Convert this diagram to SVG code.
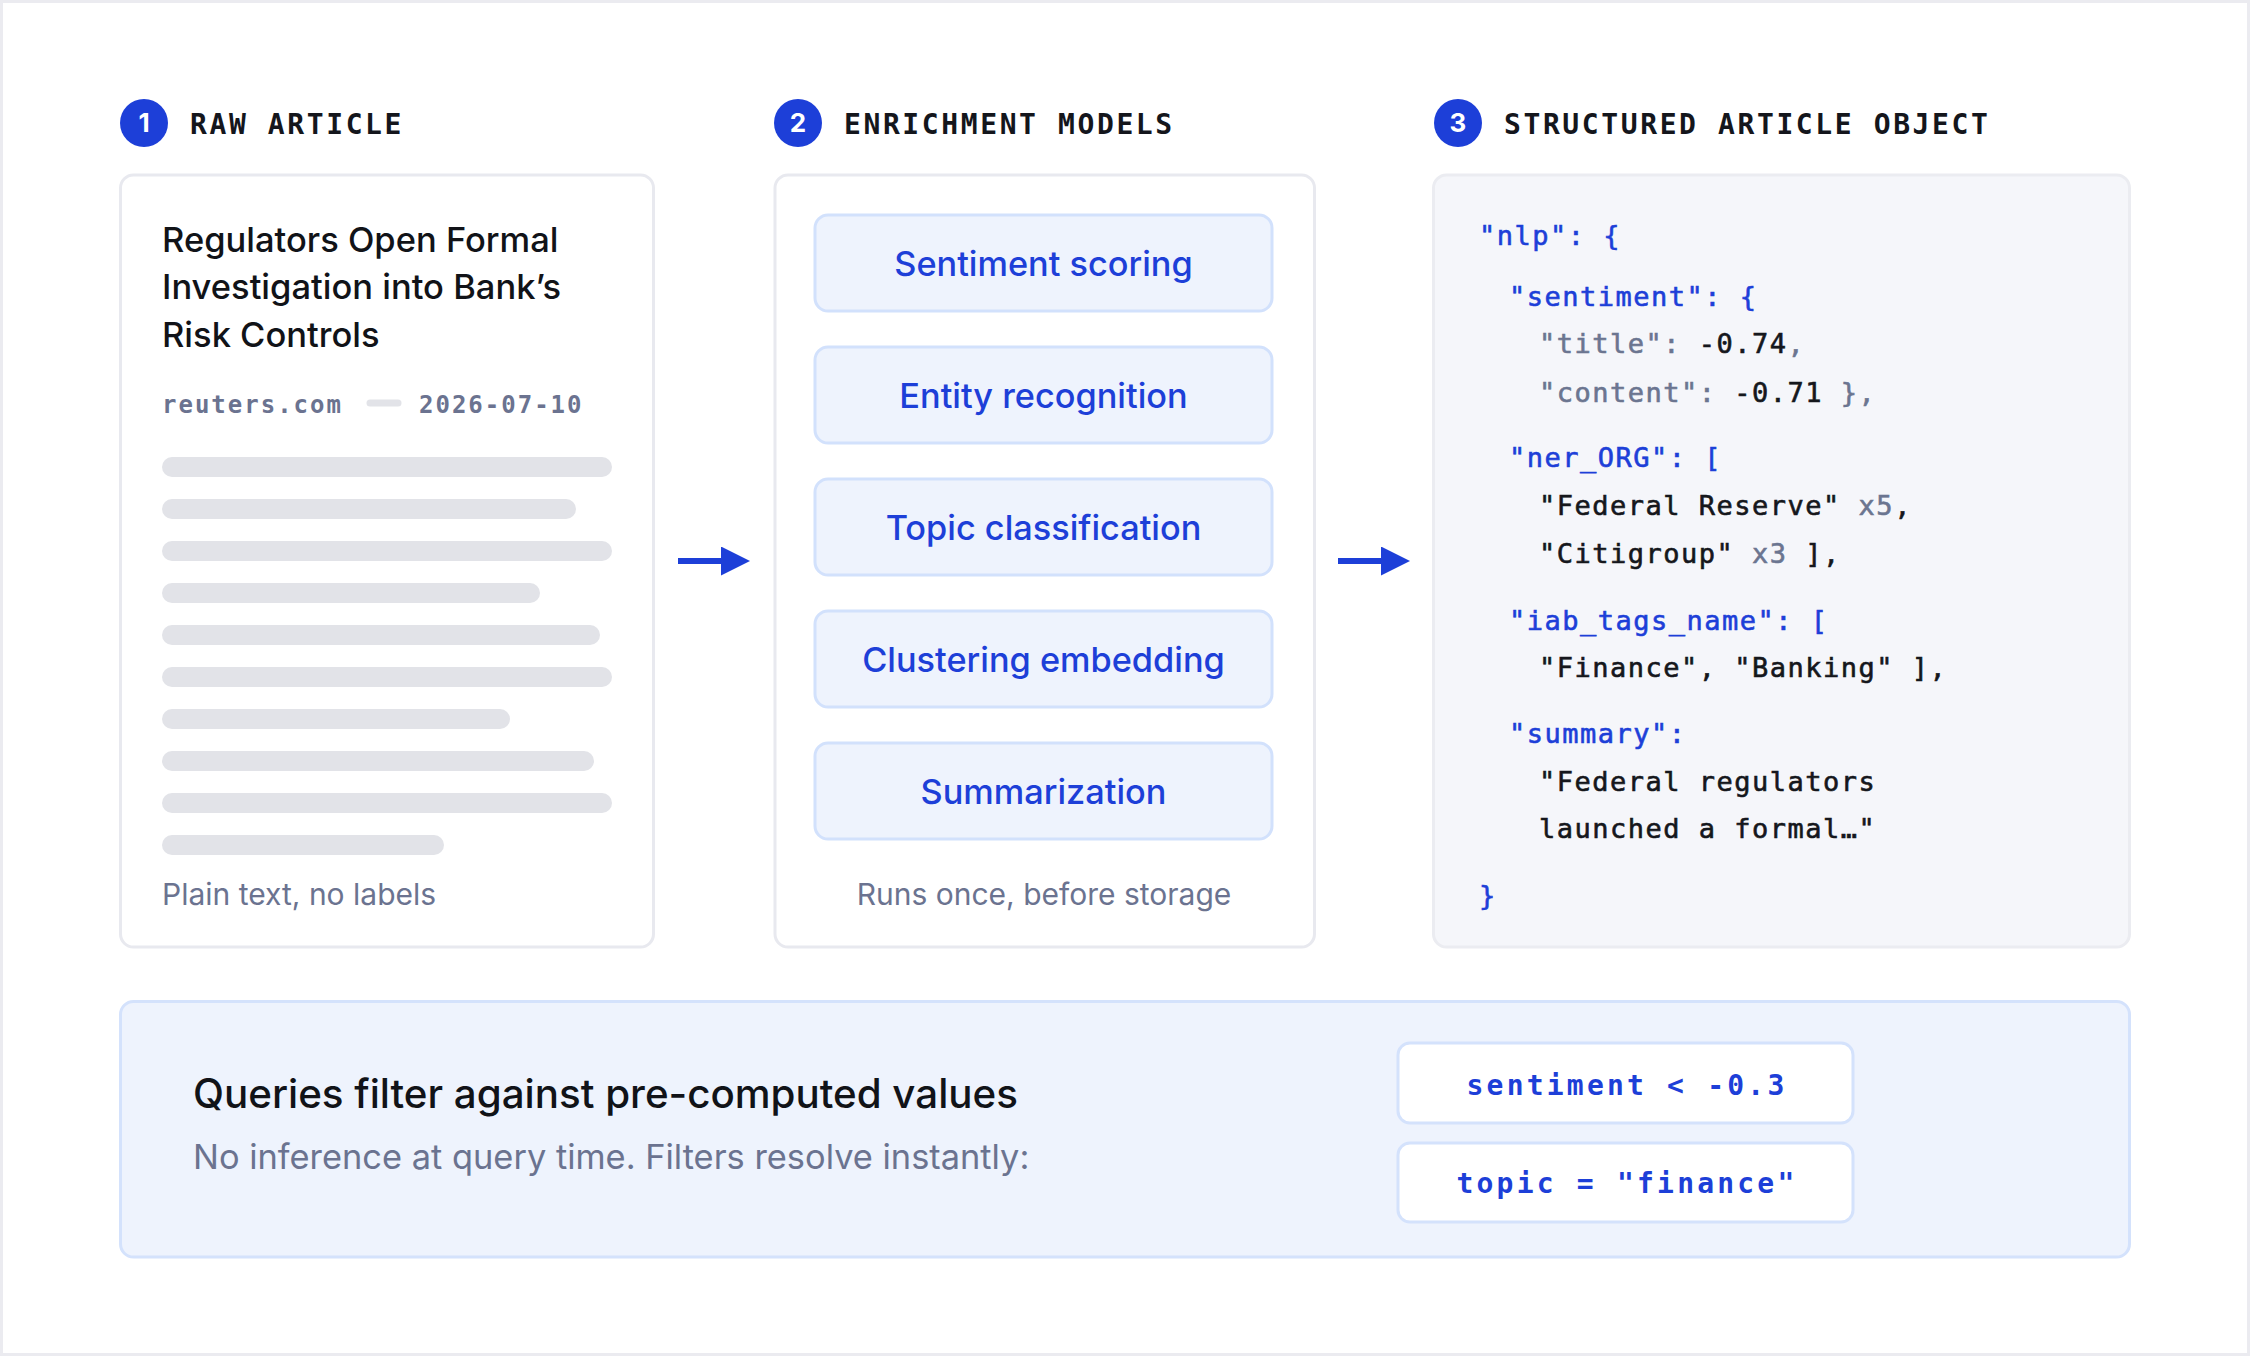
<svg xmlns="http://www.w3.org/2000/svg" width="2250" height="1356" viewBox="0 0 2250 1356">
<style>
  .frame { fill: #ffffff; stroke: #ebebf0; stroke-width: 3; }
  .panel { fill: #ffffff; stroke: #e8e9ef; stroke-width: 3; }
  .panel-code { fill: #f5f6fa; stroke: #ebecf1; stroke-width: 3; }
  .model { fill: #eef3fd; stroke: #d2e1fc; stroke-width: 3; }
  .query { fill: #eef3fd; stroke: #d4e2fc; stroke-width: 3; }
  .filter { fill: #ffffff; stroke: #d4e2fc; stroke-width: 3; }
  .bar { fill: #e2e3e8; }
  .badge { fill: #1d3fd8; }
  .badge-t { font-family: Inter, 'Liberation Sans', sans-serif; font-weight: 700; font-size: 26px; fill: #ffffff; text-anchor: middle; }
  .step { font-family: 'DejaVu Sans Mono', monospace; font-weight: 700; font-size: 28px; letter-spacing: 2.6px; fill: #14161c; }
  .title { font-family: Inter, 'Liberation Sans', sans-serif; font-weight: 500; font-size: 34.5px; fill: #111318; }
  .meta { font-family: 'DejaVu Sans Mono', monospace; font-weight: 700; font-size: 24px; letter-spacing: 2px; fill: #6b7390; }
  .note { font-family: Inter, 'Liberation Sans', sans-serif; font-size: 30px; fill: #6b7390; }
  .mlabel { font-family: Inter, 'Liberation Sans', sans-serif; font-weight: 500; font-size: 34.3px; fill: #1d3fd8; text-anchor: middle; }
  .code { font-family: 'DejaVu Sans Mono', monospace; font-size: 27px; letter-spacing: 1.5px; white-space: pre; stroke-width: 0.6px; }
  .k { fill: #1d3fd8; stroke: #1d3fd8; }
  .g { fill: #6b7590; stroke: #6b7590; }
  .v { fill: #15171c; stroke: #15171c; }
  .qh { font-family: Inter, 'Liberation Sans', sans-serif; font-weight: 500; font-size: 40.3px; fill: #111318; }
  .qs { font-family: Inter, 'Liberation Sans', sans-serif; font-size: 34.4px; fill: #6b7390; }
  .ftext { font-family: 'DejaVu Sans Mono', monospace; font-weight: 700; font-size: 28px; letter-spacing: 3.2px; fill: #1d3fd8; text-anchor: middle; white-space: pre; }
  .conn { stroke: #1d3fd8; stroke-width: 6; fill: none; }
</style>
<defs>
  <marker id="arrowhead" markerUnits="userSpaceOnUse" markerWidth="30" markerHeight="30" refX="0" refY="14.5" orient="auto">
    <path d="M0,0 L29,14.5 L0,29 Z" fill="#1d3fd8"/>
  </marker>
</defs>

<rect class="frame" x="1.5" y="1.5" width="2247" height="1353"/>

<g id="step-1">
  <circle class="badge" cx="144" cy="123" r="24"/>
  <text class="badge-t" x="144" y="132">1</text>
  <text class="step" x="190" y="134">RAW ARTICLE</text>
</g>
<g id="step-2">
  <circle class="badge" cx="798" cy="123" r="24"/>
  <text class="badge-t" x="798" y="132">2</text>
  <text class="step" x="844" y="134">ENRICHMENT MODELS</text>
</g>
<g id="step-3">
  <circle class="badge" cx="1458" cy="123" r="24"/>
  <text class="badge-t" x="1458" y="132">3</text>
  <text class="step" x="1504" y="134">STRUCTURED ARTICLE OBJECT</text>
</g>

<g id="node-raw-article">
  <rect class="panel" x="120.5" y="175" width="533" height="772" rx="13"/>
  <text class="title" x="162" y="252">Regulators Open Formal</text>
  <text class="title" x="162" y="299">Investigation into Bank’s</text>
  <text class="title" x="162" y="347">Risk Controls</text>
  <text class="meta" x="162" y="413">reuters.com</text>
  <line x1="370" y1="403" x2="398" y2="403" stroke="#e2e3e8" stroke-width="7" stroke-linecap="round"/>
  <text class="meta" x="419" y="413">2026-07-10</text>
  <rect class="bar" x="162" y="457" width="450" height="20" rx="10"/>
  <rect class="bar" x="162" y="499" width="414" height="20" rx="10"/>
  <rect class="bar" x="162" y="541" width="450" height="20" rx="10"/>
  <rect class="bar" x="162" y="583" width="378" height="20" rx="10"/>
  <rect class="bar" x="162" y="625" width="438" height="20" rx="10"/>
  <rect class="bar" x="162" y="667" width="450" height="20" rx="10"/>
  <rect class="bar" x="162" y="709" width="348" height="20" rx="10"/>
  <rect class="bar" x="162" y="751" width="432" height="20" rx="10"/>
  <rect class="bar" x="162" y="793" width="450" height="20" rx="10"/>
  <rect class="bar" x="162" y="835" width="282" height="20" rx="10"/>
  <text class="note" x="162" y="905">Plain text, no labels</text>
</g>

<g id="node-enrichment-models">
  <rect class="panel" x="775" y="175" width="539.5" height="772" rx="13"/>
  <g id="model-sentiment">
    <rect class="model" x="815" y="215" width="457" height="96" rx="13"/>
    <text class="mlabel" x="1043.5" y="276">Sentiment scoring</text>
  </g>
  <g id="model-entity">
    <rect class="model" x="815" y="347" width="457" height="96" rx="13"/>
    <text class="mlabel" x="1043.5" y="408">Entity recognition</text>
  </g>
  <g id="model-topic">
    <rect class="model" x="815" y="479" width="457" height="96" rx="13"/>
    <text class="mlabel" x="1043.5" y="540">Topic classification</text>
  </g>
  <g id="model-clustering">
    <rect class="model" x="815" y="611" width="457" height="96" rx="13"/>
    <text class="mlabel" x="1043.5" y="672">Clustering embedding</text>
  </g>
  <g id="model-summarization">
    <rect class="model" x="815" y="743" width="457" height="96" rx="13"/>
    <text class="mlabel" x="1043.5" y="804">Summarization</text>
  </g>
  <text class="note" x="1044" y="905" text-anchor="middle">Runs once, before storage</text>
</g>

<g id="node-structured-object">
  <rect class="panel-code" x="1433.5" y="175" width="696" height="772" rx="13"/>
  <text class="code" x="1479" y="245"><tspan class="k">"nlp": {</tspan></text>
  <text class="code" x="1509" y="306"><tspan class="k">"sentiment": {</tspan></text>
  <text class="code" x="1539" y="353"><tspan class="g">"title": </tspan><tspan class="v">-0.74</tspan><tspan class="g">,</tspan></text>
  <text class="code" x="1539" y="402"><tspan class="g">"content": </tspan><tspan class="v">-0.71</tspan><tspan class="g"> },</tspan></text>
  <text class="code" x="1509" y="467"><tspan class="k">"ner_ORG": [</tspan></text>
  <text class="code" x="1539" y="515"><tspan class="v">"Federal Reserve"</tspan><tspan class="g"> x5</tspan><tspan class="v">,</tspan></text>
  <text class="code" x="1539" y="563"><tspan class="v">"Citigroup"</tspan><tspan class="g"> x3</tspan><tspan class="v"> ],</tspan></text>
  <text class="code" x="1509" y="630"><tspan class="k">"iab_tags_name": [</tspan></text>
  <text class="code" x="1539" y="677"><tspan class="v">"Finance", "Banking" ],</tspan></text>
  <text class="code" x="1509" y="743"><tspan class="k">"summary":</tspan></text>
  <text class="code" x="1539" y="791"><tspan class="v">"Federal regulators</tspan></text>
  <text class="code" x="1539" y="838"><tspan class="v">launched a formal…"</tspan></text>
  <text class="code" x="1479" y="905"><tspan class="k">}</tspan></text>
</g>

<g id="node-query">
  <rect class="query" x="120.5" y="1001.5" width="2009" height="255.5" rx="13"/>
  <text class="qh" x="193" y="1108">Queries filter against pre-computed values</text>
  <text class="qs" x="193" y="1169">No inference at query time. Filters resolve instantly:</text>
  <g id="filter-sentiment">
    <rect class="filter" x="1398" y="1043" width="455" height="80" rx="12"/>
    <text class="ftext" x="1627" y="1095">sentiment &lt; -0.3</text>
  </g>
  <g id="filter-topic">
    <rect class="filter" x="1398" y="1143" width="455" height="79" rx="12"/>
    <text class="ftext" x="1627" y="1193">topic = "finance"</text>
  </g>
</g>

<g id="connectors">
  <line class="conn" x1="678" y1="561" x2="721" y2="561" marker-end="url(#arrowhead)"/>
  <line class="conn" x1="1338" y1="561" x2="1381" y2="561" marker-end="url(#arrowhead)"/>
</g>
</svg>
